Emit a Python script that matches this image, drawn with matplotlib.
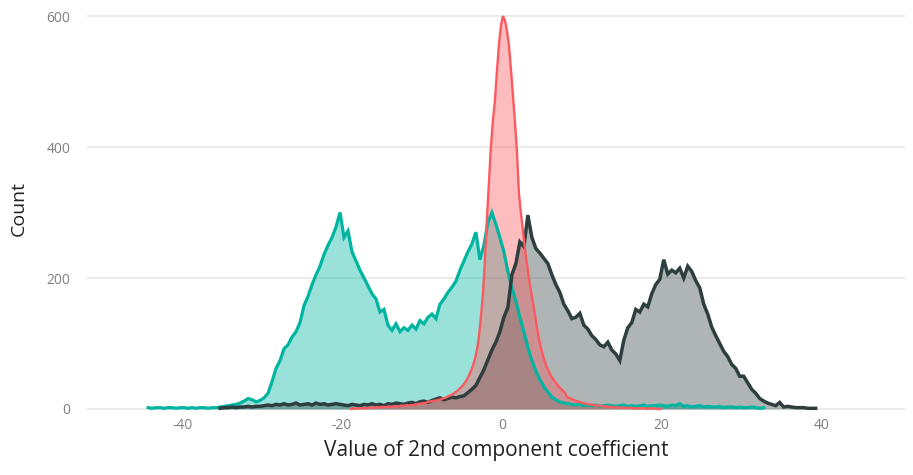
import numpy as np
import matplotlib
matplotlib.use("Agg")
import matplotlib.pyplot as plt

# histogram counts, one entry per bin
teal_start, teal_step = -44.5, 0.5
teal_counts = [
    2, 1, 2, 2, 1, 2, 2, 1, 2, 2, 1, 2, 1, 2, 2, 1, 2,
    2, 3, 4, 5, 6, 7, 9, 12,
    16, 14, 11, 13, 17, 24,
    42, 62, 74, 92, 98, 110, 118, 132, 158, 172, 190, 205, 218, 236, 250, 262,
    278, 300, 262, 272, 240, 226, 212, 200, 188, 176, 168, 148, 152, 128, 120,
    130, 118, 124, 120, 128, 122, 135, 130, 140, 145, 138,
    160, 168, 178, 186, 195, 212, 226, 240, 252, 270, 228, 250, 285, 300, 282,
    262, 240, 210, 185, 165, 140, 118, 94, 74, 58, 45, 34, 26, 18, 14, 11, 9, 8,
    7, 6, 7, 5, 6, 5, 6, 4, 5, 6, 5, 4, 5, 6, 4, 5, 4, 5, 6, 4, 5, 5, 6,
    5, 4, 6, 5, 8, 4, 5, 3, 4, 5, 3, 4, 3, 3, 4, 2, 3, 3, 2, 3, 2, 2, 3, 2, 1, 2,
]

dark_start, dark_step = -35.5, 0.5
dark_counts = [
    1, 2, 2, 3, 2, 3, 3, 4, 3, 4, 4,
    5, 6, 5, 7, 6, 8, 6, 7, 9, 6, 7, 8, 6, 9, 7, 8, 6, 7, 8, 7,
    6, 5, 7, 6, 5, 7, 6, 8, 6, 7, 5, 8, 7, 9, 8, 7,
    9, 10, 8, 11, 12, 10, 13, 15, 17, 14, 16, 18, 17, 19,
    20, 25, 30, 36, 48, 60, 75, 90, 102, 118, 140, 155, 205, 222, 255, 248,
    296, 262, 245, 238, 230, 222, 205, 190, 178, 160, 150, 138, 140, 146,
    128, 122, 112, 106, 98, 95, 102, 90, 84, 74, 105, 124, 132, 152, 148, 160,
    156, 176, 190, 198, 228, 206, 212, 208, 215, 200, 218, 210, 196, 185, 160,
    145, 125, 112, 100, 88, 80, 68, 62, 50, 50, 40, 30, 24, 16, 12, 9, 7, 5,
    10, 3, 4, 3, 2, 2, 2, 1, 1, 1,
]

red_start, red_step = -19.0, 0.25
red_counts = [
    0, 1, 0, 1, 1, 1, 1, 2,
    1, 2, 2, 2, 2, 3, 2, 3,
    3, 3, 3, 4, 3, 4, 4, 4,
    4, 5, 5, 5, 6, 5, 6, 6,
    7, 7, 8, 8,
    9, 9, 10, 11, 12, 12, 13, 13,
    14, 15, 16, 17, 18, 20, 21, 23,
    25, 27, 30, 33,
    36, 40, 45, 51,
    58, 66, 76, 90,
    110, 140, 175, 225,
    290, 345, 400, 440,
    470, 515, 555, 585,
    600, 594, 578, 556,
    520, 480, 440, 395,
    330, 300, 272, 245,
    222, 200, 182, 165,
    145, 125, 108, 94,
    82, 72, 64, 57,
    51, 46, 42, 38,
    34, 31, 28, 25,
    19, 17, 16, 14, 13, 12, 11, 10,
    9, 8, 8, 7, 7, 6, 6, 5,
    5, 5, 4, 4, 4, 3, 3, 3, 3, 2, 2, 2,
    2, 2, 2, 1, 2, 1, 1, 1, 1, 1, 1, 1, 0, 1, 1, 0, 1, 0, 0, 0,
]

series = [
    (teal_start, teal_step, teal_counts, "#00B5A0", 0.40, 2.3),
    (dark_start, dark_step, dark_counts, "#2E3D3E", 0.38, 2.5),
    (red_start, red_step, red_counts, "#FA5A60", 0.40, 1.7),
]

plt.rcParams["font.family"] = ["Open Sans", "DejaVu Sans"]
plt.rcParams["axes.unicode_minus"] = False

fig = plt.figure(figsize=(9.13, 4.75), dpi=100)
ax = fig.add_axes([0.0953, 0.128, 0.8957, 0.8657])

for start, step, counts, col, a, lw in series:
    counts = np.array(counts, dtype=float)
    mids = start + step * (np.arange(len(counts)) + 0.5)
    ax.fill_between(mids, counts, 0, color=col, alpha=a, lw=0)
    ax.plot(mids, counts, color=col, lw=lw, solid_joinstyle="miter")

ax.set_xlim(-51.9, 50.4)
ax.set_ylim(-8, 620)
ax.set_xticks([-40, -20, 0, 20, 40])
ax.set_yticks([0, 200, 400, 600])
ax.grid(axis="y", color="#EBEBEB", lw=1.4)
ax.set_axisbelow(True)
for s in ax.spines.values():
    s.set_visible(False)
ax.tick_params(length=0, labelsize=10, labelcolor="#808080")
ax.tick_params(axis="x", pad=3)
ax.tick_params(axis="y", pad=12)
ax.set_xlabel("Value of 2nd component coefficient", fontsize=15, color="#222222", labelpad=5)
ax.set_ylabel("Count", fontsize=14, color="#222222")
ax.yaxis.set_label_coords(-0.073, 0.5)

fig.savefig("out.png", dpi=100)
